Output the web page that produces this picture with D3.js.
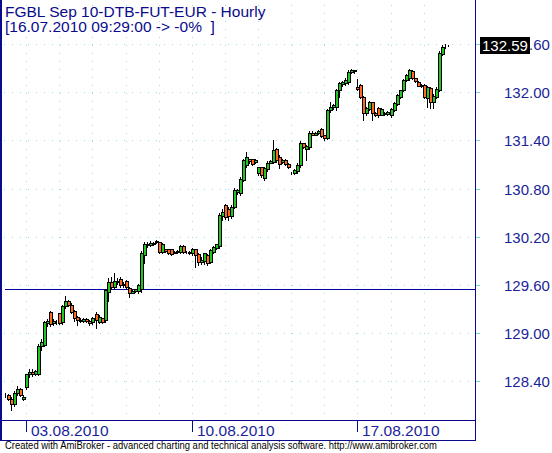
<!DOCTYPE html>
<html>
<head>
<meta charset="utf-8">
<script src="https://cdn.jsdelivr.net/npm/d3@7/dist/d3.min.js"></script>
<style>
  html, body { margin: 0; padding: 0; background: #ffffff; }
  svg { display: block; }
  text { font-family: "Liberation Sans", Arial, sans-serif; }
</style>
</head>
<body>
<svg id="chart" width="552" height="453"></svg>
<script>
// ---------------- DATA ----------------
const titleLine1 = "FGBL Sep 10-DTB-FUT-EUR - Hourly";
const titleLine2 = "[16.07.2010 09:29:00 -> -0%  ]";
const footerText = "Created with AmiBroker - advanced charting and technical analysis software. http://www.amibroker.com";

const days = ["02.08.2010","03.08.2010","04.08.2010","05.08.2010","06.08.2010","09.08.2010","10.08.2010",
              "11.08.2010","12.08.2010","13.08.2010","16.08.2010","17.08.2010","18.08.2010","19.08.2010"];
const barsPerDay = [7,11,11,11,11,11,11,11,11,11,11,11,11,9];
const dateLabels = ["03.08.2010","10.08.2010","17.08.2010"];

const open = [
128.24,128.23,128.19,128.12,128.26,128.31,128.19,
128.33,128.49,128.52,128.50,128.50,128.85,128.86,129.13,129.27,129.13,129.15,
129.25,129.14,129.34,129.40,129.36,129.28,129.21,129.17,129.16,129.18,129.16,
129.14,129.24,129.15,129.19,129.17,129.52,129.64,129.58,129.66,129.68,129.60,
129.66,129.57,129.51,129.53,129.53,129.56,129.98,130.12,130.10,130.13,130.14,
130.14,130.02,130.05,130.05,130.05,130.01,130.02,130.02,130.09,130.02,130.02,
130.00,130.05,129.99,129.89,129.90,129.98,129.89,130.02,130.07,130.09,130.46,
130.60,130.55,130.47,130.58,130.76,130.75,130.92,131.10,131.17,131.17,131.14,
131.00,131.07,130.94,131.05,131.13,131.14,131.30,131.20,131.14,131.16,131.11,
131.00,131.00,131.02,131.10,131.37,131.30,131.32,131.50,131.48,131.50,131.55,
131.47,131.44,131.78,131.82,131.82,132.03,132.11,132.12,132.13,132.26,132.28,
132.07,132.10,131.95,131.75,131.80,131.88,131.75,131.81,131.73,131.75,131.74,
131.72,131.79,131.86,131.95,132.03,132.16,132.18,132.27,132.18,132.14,132.10,
132.10,131.94,132.06,131.88,131.95,132.04,132.49,132.58,132.59];
const high = [
128.26,128.25,128.21,128.28,128.35,128.32,128.23,
128.50,128.56,128.56,128.55,128.87,128.93,129.16,129.18,129.28,129.18,129.17,
129.26,129.36,129.47,129.42,129.38,129.29,129.22,129.19,129.19,129.19,129.17,
129.21,129.27,129.23,129.20,129.56,129.69,129.70,129.75,129.69,129.70,129.64,
129.67,129.58,129.55,129.56,129.62,130.03,130.14,130.14,130.15,130.14,130.16,
130.14,130.13,130.06,130.06,130.06,130.03,130.04,130.10,130.10,130.03,130.03,
130.07,130.06,130.01,129.95,130.01,129.99,130.05,130.09,130.12,130.50,130.55,
130.62,130.58,130.60,130.81,130.80,130.95,131.18,131.26,131.18,131.18,131.17,
131.08,131.08,131.07,131.15,131.16,131.41,131.31,131.22,131.18,131.17,131.12,
131.01,131.05,131.12,131.40,131.38,131.35,131.52,131.52,131.51,131.54,131.56,
131.48,131.80,131.88,131.86,132.05,132.14,132.15,132.18,132.28,132.30,132.29,
132.17,132.11,131.96,131.82,131.90,131.89,131.76,131.82,131.81,131.76,131.77,
131.81,131.88,131.98,132.04,132.17,132.24,132.30,132.28,132.19,132.15,132.11,
132.11,132.08,132.07,131.98,132.07,132.52,132.60,132.61,132.60];
const low = [
128.21,128.17,128.05,128.10,128.24,128.22,128.17,
128.31,128.46,128.47,128.48,128.48,128.80,128.84,129.10,129.10,129.11,129.12,
129.12,129.12,129.32,129.34,129.25,129.16,129.11,129.14,129.15,129.14,129.11,
129.12,129.07,129.13,129.13,129.15,129.40,129.55,129.56,129.62,129.58,129.58,
129.56,129.46,129.50,129.52,129.51,129.52,129.88,130.08,130.09,130.10,130.13,
130.00,130.01,130.02,129.99,129.98,130.00,130.01,130.01,130.01,130.01,129.99,
129.98,129.83,129.86,129.87,129.87,129.86,129.88,130.01,130.05,130.07,130.41,
130.43,130.42,130.44,130.56,130.74,130.73,130.90,131.08,131.13,131.10,131.13,
130.98,130.95,130.92,131.03,131.12,131.12,131.14,131.06,131.13,131.10,131.06,
130.99,130.99,131.00,131.08,131.31,131.16,131.30,131.47,131.47,131.49,131.45,
131.41,131.42,131.76,131.80,131.79,131.95,132.09,132.10,132.11,132.25,132.25,
132.04,131.93,131.66,131.73,131.78,131.66,131.71,131.70,131.72,131.72,131.73,
131.70,131.77,131.85,131.94,132.02,132.15,132.16,132.17,132.14,132.08,132.07,
131.93,131.82,131.81,131.81,131.94,132.02,132.47,132.56,132.58];
const close = [
128.23,128.19,128.12,128.26,128.31,128.24,128.21,
128.49,128.52,128.50,128.53,128.85,128.90,129.14,129.16,129.12,129.16,129.14,
129.13,129.34,129.40,129.36,129.27,129.20,129.17,129.16,129.18,129.16,129.13,
129.19,129.17,129.21,129.15,129.54,129.64,129.58,129.66,129.64,129.60,129.62,
129.58,129.51,129.53,129.55,129.60,130.01,130.12,130.10,130.13,130.12,130.15,
130.02,130.12,130.03,130.00,129.99,130.02,130.03,130.09,130.02,130.02,130.00,
130.05,129.98,129.89,129.92,130.00,129.88,130.04,130.08,130.11,130.48,130.52,
130.45,130.47,130.58,130.79,130.79,130.93,131.16,131.20,131.15,131.11,131.16,
131.07,130.97,131.06,131.13,131.15,131.29,131.16,131.11,131.16,131.11,131.07,
131.00,131.04,131.10,131.38,131.33,131.34,131.50,131.48,131.50,131.53,131.46,
131.44,131.79,131.82,131.85,132.03,132.12,132.14,132.16,132.26,132.28,132.27,
132.05,131.95,131.75,131.81,131.88,131.75,131.73,131.72,131.80,131.74,131.76,
131.80,131.87,131.97,132.03,132.16,132.22,132.29,132.19,132.15,132.09,132.09,
131.95,132.07,131.88,131.96,132.05,132.50,132.57,132.59,132.59];

const yTicks = [128.40, 129.00, 129.60, 130.20, 130.80, 131.40, 132.00, 132.60];
const refLevel = 129.55;
const lastValue = 132.59;

// ---------------- DRAWING ----------------
const svg = d3.select("#chart");
const W = 552, H = 453;
const plotRight = 475, plotBottom = 420, axisBottom = 440;
const navy = "#0a0a8c";
const labelBlue = "#1a1f9a";
const gridColor = "#9edfe0";
const upColor = "#22c522";
const downColor = "#ff6a1e";

svg.append("rect").attr("width", W).attr("height", H).attr("fill", "#ffffff");

const n = close.length;
const x = d3.scaleLinear().domain([0, n - 1]).range([6.2, 448.7]);
const y = d3.scaleLinear().domain([128.40, 132.60]).range([381.7, 44.7]);

// day start indices
const dayStart = [];
let acc = 0;
barsPerDay.forEach(b => { dayStart.push(acc); acc += b; });

// grid
const grid = svg.append("g");
yTicks.forEach(t => {
  const py = Math.floor(y(t)) + 0.5;
  grid.append("line").attr("x1", 4).attr("x2", plotRight).attr("y1", py).attr("y2", py)
    .attr("stroke", gridColor).attr("stroke-width", 1).attr("stroke-dasharray", "1,7");
});
dayStart.slice(1).forEach(i => {
  const px = Math.round(x(i)) - 0.5;
  grid.append("line").attr("x1", px).attr("x2", px).attr("y1", 5).attr("y2", plotBottom)
    .attr("stroke", gridColor).attr("stroke-width", 1).attr("stroke-dasharray", "1,7");
});

// reference line
const ry = Math.floor(y(refLevel)) + 0.5;
svg.append("line").attr("x1", 5).attr("x2", plotRight).attr("y1", ry).attr("y2", ry)
  .attr("stroke", "#0000a0").attr("stroke-width", 1);

// candles
const idx = d3.range(n);
const cg = svg.append("g");
const candle = cg.selectAll("g.c").data(idx).join("g").attr("class", "c");
candle.append("line")
  .attr("x1", i => Math.round(x(i)) - 0.5)
  .attr("x2", i => Math.round(x(i)) - 0.5)
  .attr("y1", i => Math.round(y(high[i])))
  .attr("y2", i => Math.round(y(low[i])) + 1)
  .attr("stroke", "#000").attr("stroke-width", 1);
candle.append("rect")
  .attr("x", i => Math.round(x(i)) - 1.5)
  .attr("width", 3)
  .attr("y", i => Math.round(y(Math.max(open[i], close[i]))) + 0.5)
  .attr("height", i => Math.max(0, Math.round(y(Math.min(open[i], close[i]))) - Math.round(y(Math.max(open[i], close[i])))))
  .attr("fill", i => close[i] > open[i] ? upColor : (close[i] < open[i] ? downColor : "#000"))
  .attr("stroke", "#000").attr("stroke-width", 1);

// frame
svg.append("rect").attr("x", 0).attr("y", 0).attr("width", 2).attr("height", axisBottom + 1).attr("fill", navy);
svg.append("line").attr("x1", 0).attr("x2", plotRight + 1).attr("y1", plotBottom + 0.5).attr("y2", plotBottom + 0.5)
  .attr("stroke", navy);
svg.append("line").attr("x1", 0).attr("x2", plotRight + 1).attr("y1", axisBottom + 0.5).attr("y2", axisBottom + 0.5)
  .attr("stroke", navy);
svg.append("line").attr("x1", plotRight + 0.5).attr("x2", plotRight + 0.5).attr("y1", 0).attr("y2", axisBottom + 1)
  .attr("stroke", navy);

// y axis (right)
const yAxis = d3.axisRight(y).tickValues(yTicks).tickSize(4).tickPadding(24)
  .tickFormat(d3.format(".2f"));
const ya = svg.append("g").attr("transform", `translate(${plotRight + 1},0)`).call(yAxis);
ya.select(".domain").remove();
ya.selectAll(".tick line").attr("stroke", "#7fd6dc");
ya.selectAll(".tick").attr("transform", d => `translate(0,${Math.floor(y(d)) + 0.5})`);
ya.selectAll(".tick text").attr("fill", labelBlue).attr("font-size", "15px")
  .attr("font-family", "'Liberation Sans', Arial, sans-serif").attr("dy", "0.36em");

// last value box
const ly = Math.floor(y(lastValue));
svg.append("rect").attr("x", 480).attr("y", ly - 8).attr("width", 50).attr("height", 17).attr("fill", "#000");
svg.append("text").attr("x", 482).attr("y", ly + 5.5).attr("fill", "#fff").attr("font-size", "15px")
  .text(lastValue.toFixed(2));

// x axis date labels
dateLabels.forEach(lbl => {
  const di = days.indexOf(lbl);
  const px = Math.round(x(dayStart[di])) - 0.5;
  svg.append("line").attr("x1", px).attr("x2", px).attr("y1", plotBottom + 1).attr("y2", plotBottom + 12)
    .attr("stroke", navy);
  svg.append("text").attr("x", px + 4.5).attr("y", 436).attr("fill", labelBlue).attr("font-size", "15.5px")
    .text(lbl);
});

// titles
svg.append("text").attr("x", 5).attr("y", 17).attr("fill", navy).attr("font-size", "15.5px").text(titleLine1);
svg.append("text").attr("x", 5).attr("y", 32).attr("fill", navy).attr("font-size", "15.5px")
  .attr("xml:space", "preserve").style("white-space", "pre").text(titleLine2);

// footer
svg.append("text").attr("x", 5).attr("y", 449).attr("fill", "#000").attr("font-size", "10.5px")
  .attr("textLength", 432).attr("lengthAdjust", "spacingAndGlyphs").text(footerText);
</script>
</body>
</html>
